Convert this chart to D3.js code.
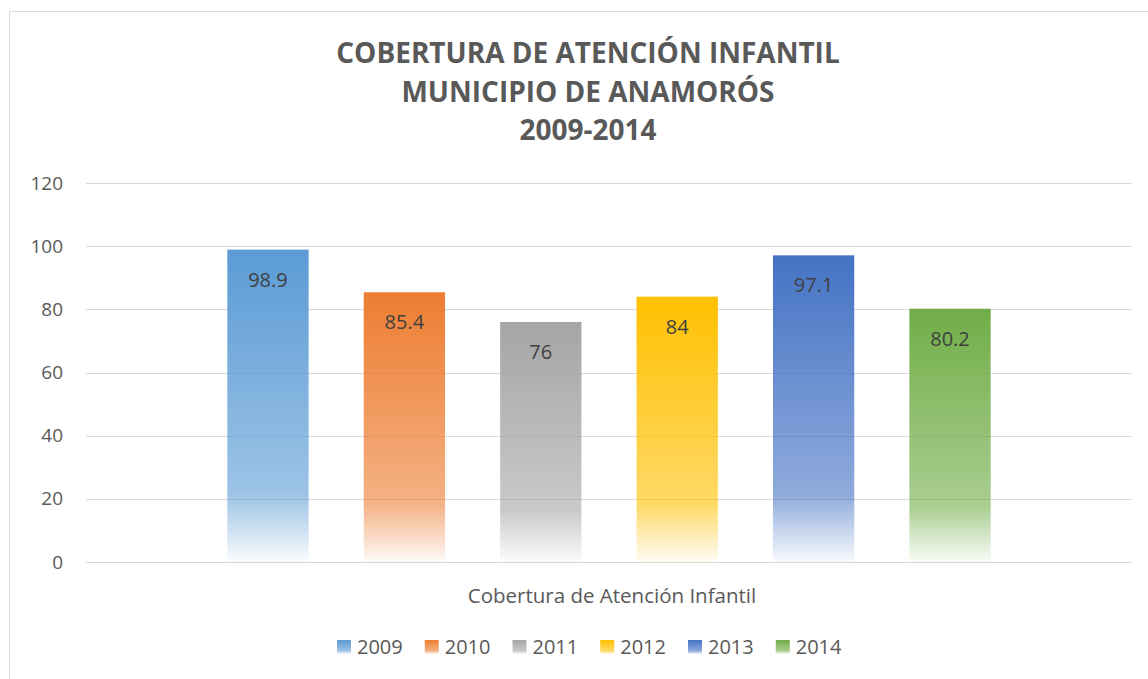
<!DOCTYPE html>
<html>
<head>
    <meta charset="utf-8">
    <title>Cobertura de Atención Infantil</title>
    <script src="https://d3js.org/d3.v7.min.js"></script>
    <style>
        body { margin: 0; background: #fff; }
        text { font-family: "Open Sans", "Noto Sans", sans-serif; fill: #595959; }
    </style>
</head>
<body>
    <svg width="1148" height="679"></svg>
    <script>
        // Datos
        const years = ["2009", "2010", "2011", "2012", "2013", "2014"];
        const values = [98.9, 85.4, 76, 84, 97.1, 80.2];
        const colors = ["#5B9BD5", "#ED7D31", "#A5A5A5", "#FFC000", "#4472C4", "#70AD47"];
        const category = "Cobertura de Atención Infantil";
        const yTicks = [0, 20, 40, 60, 80, 100, 120];
        const titleLines = ["COBERTURA DE ATENCIÓN INFANTIL", "MUNICIPIO DE ANAMORÓS", "2009-2014"];

        const svg = d3.select("svg");

        // Marco del gráfico
        svg.append("rect")
            .attr("x", 9.5).attr("y", 11.5)
            .attr("width", 1300).attr("height", 800)
            .attr("fill", "none").attr("stroke", "#D9D9D9");

        const plotLeft = 86, plotRight = 1132, plotTop = 183, plotBottom = 562;

        const y = d3.scaleLinear().domain([0, 120]).range([plotBottom, plotTop]);
        const x0 = d3.scaleBand().domain([category]).range([plotLeft, plotRight]).paddingInner(0).paddingOuter(0.139);
        const x1 = d3.scaleBand().domain(years).range([0, x0.bandwidth()]).paddingInner(0.404).paddingOuter(0.202);

        // Gradientes
        const defs = svg.append("defs");
        years.forEach((yr, i) => {
            const g = defs.append("linearGradient")
                .attr("id", "g" + yr)
                .attr("x1", 0).attr("y1", 0).attr("x2", 0).attr("y2", 1);
            g.append("stop").attr("offset", "0%").attr("stop-color", colors[i]).attr("stop-opacity", 1);
            g.append("stop").attr("offset", "78%").attr("stop-color", colors[i]).attr("stop-opacity", 0.6);
            g.append("stop").attr("offset", "100%").attr("stop-color", colors[i]).attr("stop-opacity", 0.04);
        });

        // Líneas de la cuadrícula
        svg.append("g")
            .selectAll("line")
            .data(yTicks)
            .enter()
            .append("line")
            .attr("x1", plotLeft).attr("x2", plotRight)
            .attr("y1", d => Math.round(y(d)) + 0.5)
            .attr("y2", d => Math.round(y(d)) + 0.5)
            .attr("stroke", "#D9D9D9")
            .attr("stroke-width", 1);

        // Etiquetas del eje Y
        svg.append("g")
            .selectAll("text")
            .data(yTicks)
            .enter()
            .append("text")
            .attr("x", 63)
            .attr("y", d => y(d))
            .attr("dy", "0.35em")
            .attr("text-anchor", "end")
            .style("font-size", "19px")
            .text(d => d);

        // Barras
        const gx = x0(category);
        svg.append("g")
            .selectAll("rect")
            .data(values)
            .enter()
            .append("rect")
            .attr("x", (d, i) => gx + x1(years[i]))
            .attr("y", d => y(d))
            .attr("width", x1.bandwidth())
            .attr("height", d => plotBottom - y(d))
            .attr("fill", (d, i) => `url(#g${years[i]})`);

        // Etiquetas de datos
        svg.append("g")
            .selectAll("text")
            .data(values)
            .enter()
            .append("text")
            .attr("x", (d, i) => gx + x1(years[i]) + x1.bandwidth() / 2)
            .attr("y", d => y(d) + 37)
            .attr("text-anchor", "middle")
            .style("font-size", "20px")
            .style("fill", "#404040")
            .text(d => d);

        // Título
        svg.append("g")
            .selectAll("text")
            .data(titleLines)
            .enter()
            .append("text")
            .attr("x", 588)
            .attr("y", (d, i) => 63 + i * 38.5)
            .attr("text-anchor", "middle")
            .style("font-size", "28px")
            .style("font-weight", "bold")
            .text(d => d);

        // Etiqueta de categoría
        svg.append("text")
            .attr("x", 612)
            .attr("y", 603)
            .attr("text-anchor", "middle")
            .style("font-size", "20.5px")
            .text(category);

        // Leyenda
        const legend = svg.append("g");
        let lx = 337;
        years.forEach(yr => {
            legend.append("rect")
                .attr("x", lx).attr("y", 640)
                .attr("width", 14).attr("height", 14)
                .attr("fill", `url(#g${yr})`);
            const t = legend.append("text")
                .attr("x", lx + 20)
                .attr("y", 654)
                .style("font-size", "20px")
                .text(yr);
            lx += 20 + t.node().getComputedTextLength() + 22;
        });
    </script>
</body>
</html>
